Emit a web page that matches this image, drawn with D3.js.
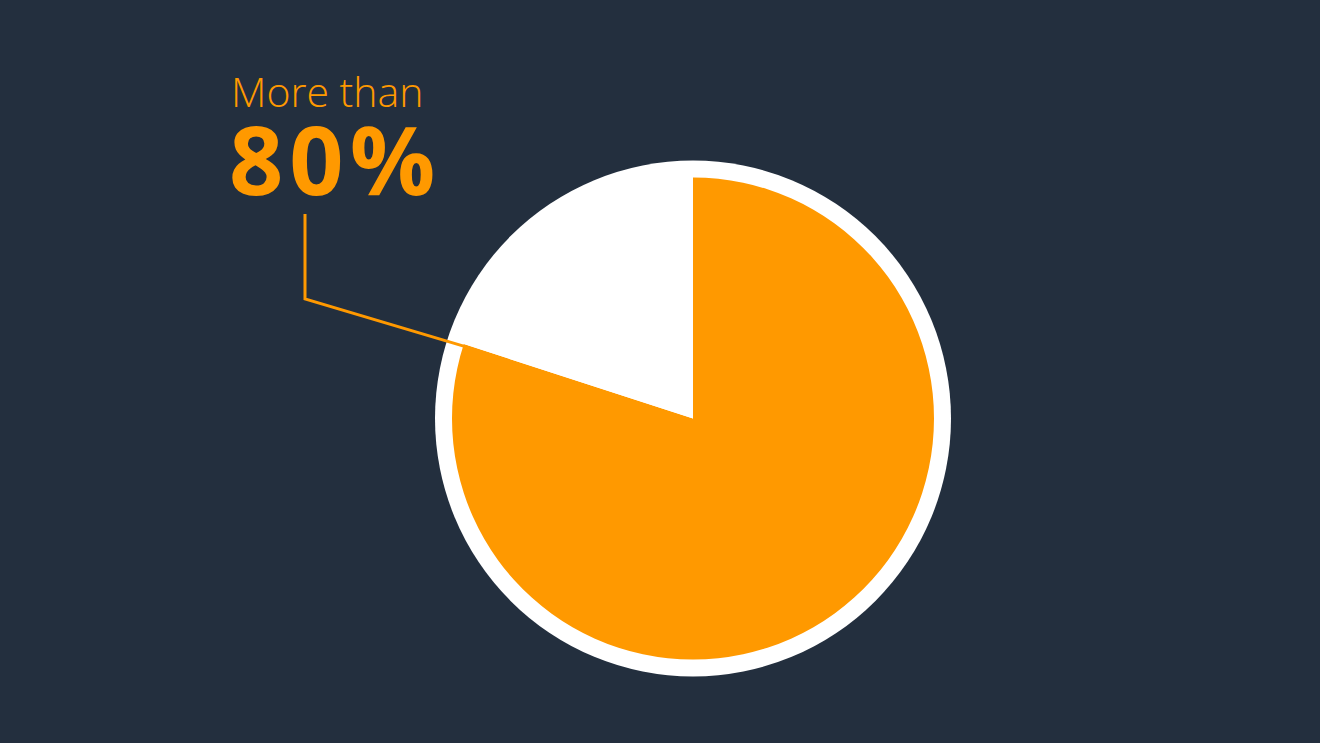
<!DOCTYPE html>
<html>
<head>
<meta charset="utf-8">
<script src="https://cdn.jsdelivr.net/npm/d3@7"></script>
<style>
  html, body { margin: 0; padding: 0; background: #232f3e; }
  svg { display: block; }
</style>
</head>
<body>
<div id="chart"></div>
<script>
// datos del gráfico
const categories = ["More than 80%", "Rest"];
const values = [80, 20];
const labelTop = "More than";
const labelValue = "80%";

const width = 1320, height = 743;
const cx = 693, cy = 418.5;
const rOuter = 258, rPie = 241;

const svg = d3.select("#chart").append("svg")
    .attr("width", width)
    .attr("height", height);

svg.append("rect")
    .attr("width", width).attr("height", height)
    .attr("fill", "#232f3e");

const g = svg.append("g").attr("transform", `translate(${cx},${cy})`);

// disco blanco de fondo
g.append("circle")
    .attr("r", rOuter)
    .attr("fill", "#ffffff");

const pie = d3.pie().sort(null).value(d => d);
const arcs = pie(values);
const arc = d3.arc().innerRadius(0).outerRadius(rPie);
const color = d3.scaleOrdinal().domain(categories).range(["#ff9900", "#ffffff"]);

g.selectAll("path.slice")
    .data(arcs)
    .enter().append("path")
    .attr("class", "slice")
    .attr("d", arc)
    .attr("fill", (d, i) => color(categories[i]));

// línea guía hasta el borde del sector naranja
const a = arcs[0].endAngle;
const end = [cx + (rPie - 6) * Math.sin(a), cy - (rPie - 6) * Math.cos(a) + 2];
const leader = [[305, 214], [305, 299], end];

svg.append("path")
    .attr("d", d3.line()(leader))
    .attr("fill", "none")
    .attr("stroke", "#ff9900")
    .attr("stroke-width", 3);

svg.append("text")
    .attr("x", 231).attr("y", 107)
    .attr("fill", "#ff9900")
    .style("font-family", "'Open Sans', 'Noto Sans', sans-serif")
    .style("font-weight", 300)
    .style("font-size", "41px")
    .text(labelTop);

svg.append("text")
    .attr("x", 229).attr("y", 195)
    .attr("fill", "#ff9900")
    .style("font-family", "'Open Sans', 'Noto Sans', sans-serif")
    .style("font-weight", 700)
    .style("font-size", "95px")
    .style("letter-spacing", "6px")
    .text(labelValue);
</script>
</body>
</html>
